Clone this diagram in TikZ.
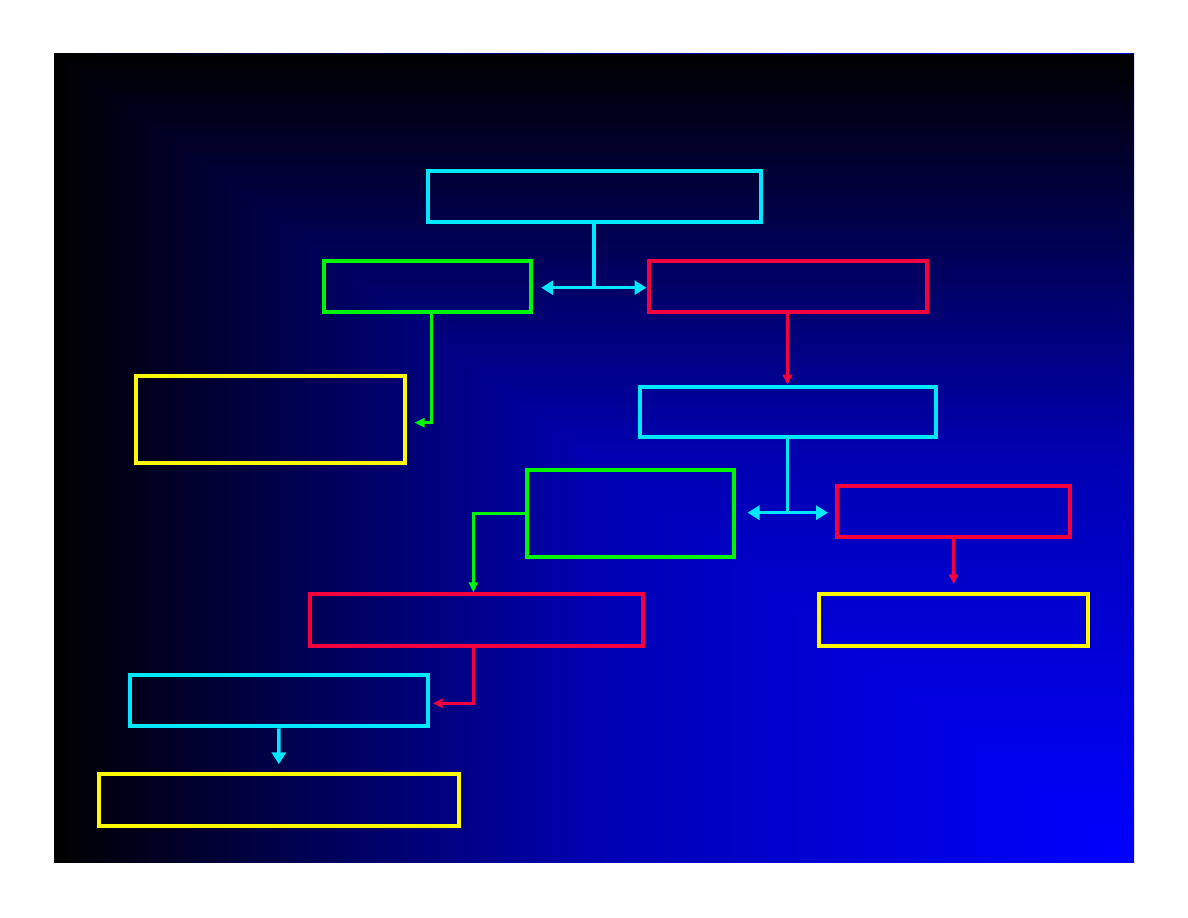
\documentclass[tikz,border=0pt]{standalone}
\usepackage{tikz}
\usetikzlibrary{arrows.meta,calc}
\definecolor{bcyan}{RGB}{0,232,255}
\definecolor{bgreen}{RGB}{0,245,0}
\definecolor{bred}{RGB}{245,0,62}
\definecolor{byellow}{RGB}{255,250,0}
\definecolor{bgmid}{RGB}{0,0,178}
\tikzset{bigtri/.tip={Triangle[length=0.24cm,width=0.28cm]},
         smalltri/.tip={Triangle[length=0.2cm,width=0.18cm]}}
\begin{document}
\begin{tikzpicture}[x=0.02cm,y=-0.02cm,
    box/.style n args={3}{draw=#1,line width=0.08cm,minimum width=#2*0.02cm,minimum height=#3*0.02cm,inner sep=0pt},
    link/.style={draw=#1,line width=0.07cm}]
    \useasboundingbox[fill=white] (0,0) rectangle (1188,918);
    \shade[left color=black,right color=blue,middle color=bgmid] (54,54) rectangle (1134,863);
    \shade[top color=black,bottom color=blue,middle color=bgmid] (54,54) -- (1134,54) -- (1134,863) -- cycle;

    \node[box={bcyan}{333}{51}] (head) at (594,196.5) {};
    \node[box={bgreen}{207}{51}] (gA) at (427.7,287) {};
    \node[box={bred}{278}{51}] (rA) at (787.5,287) {};
    \node[box={byellow}{269}{87}] (yA) at (270,419.7) {};
    \node[box={bcyan}{296}{50.5}] (cB) at (787.5,412) {};
    \node[box={bgreen}{207}{87}] (gB) at (630,513.7) {};
    \node[box={bred}{233}{51}] (rB) at (953.5,511.5) {};
    \node[box={bred}{333}{51.4}] (rC) at (476.7,620) {};
    \node[box={byellow}{269}{51.4}] (yB) at (953.7,620) {};
    \node[box={bcyan}{298}{51}] (cC) at (279,700.8) {};
    \node[box={byellow}{360}{51.4}] (yC) at (278.8,800) {};

    \coordinate (jA) at ($(head.south |- rA.west)+(0,0.7)$);
    \coordinate (jB) at ($(cB.south |- rB.west)+(0,1.2)$);

    \draw[link=bcyan] (head.south) -- (jA);
    \draw[link=bcyan,bigtri-bigtri,shorten <=0.16cm] (gA.east |- jA) -- (jA -| rA.west);
    \draw[link=bgreen,-smalltri] ($(gA.south)+(4,0)$) |- ($(yA.east)+(8,3)$);
    \draw[link=bred,-smalltri] (rA.south) -- (cB.north);
    \draw[link=bcyan] (cB.south) -- (jB);
    \draw[link=bcyan,bigtri-bigtri,shorten <=0.24cm,shorten >=0.14cm] (gB.east |- jB) -- (jB -| rB.west);
    \draw[link=bgreen,-smalltri] (gB.west) -| ($(rC.north)+(-3.4,0)$);
    \draw[link=bred,-smalltri,shorten >=0.16cm] (rB.south) -- (yB.north);
    \draw[link=bred,-smalltri] ($(rC.south)+(-3.4,0)$) |- ($(cC.east)+(2.7,2.5)$);
    \draw[link=bcyan,-bigtri,shorten >=0.16cm] (cC.south) -- (yC.north);
\end{tikzpicture}
\end{document}
